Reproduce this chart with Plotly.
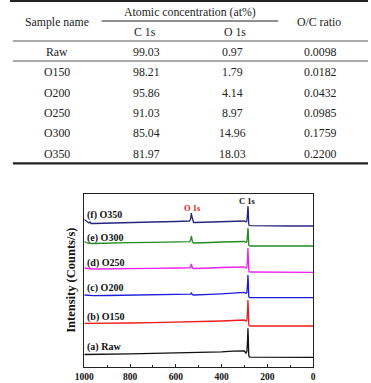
import plotly.graph_objects as go

# ---------------- table data ----------------
table_samples = ["Raw", "O150", "O200", "O250", "O300", "O350"]
table_c1s = ["99.03", "98.21", "95.86", "91.03", "85.04", "81.97"]
table_o1s = ["0.97", "1.79", "4.14", "8.97", "14.96", "18.03"]
table_oc = ["0.0098", "0.0182", "0.0432", "0.0985", "0.1759", "0.2200"]

# ---------------- spectra data (binding energy, eV) ----------------
be = [1000, 990, 980, 975, 970, 960, 900, 800, 700, 600, 550, 540, 535, 532, 530,
      527, 522, 515, 450, 400, 350, 310, 300, 293, 289, 286, 284.5, 283, 281, 279,
      275, 250, 200, 100, 0]

raw = [12.5, 12.5, 12.5, 12.5, 12.5, 12.5, 12.8, 13.2, 13.6, 14.0, 14.2, 14.2, 14.3, 14.4, 14.4,
       14.4, 14.4, 14.4, 14.7, 15.2, 15.8, 16.3, 16.0, 14.0, 15.5, 27.0, 38.7, 30.0, 12.0, 10.0,
       9.8, 9.8, 9.7, 9.7, 9.7]
o150 = [43.7, 43.7, 43.5, 43.6, 43.5, 43.5, 43.7, 44.0, 44.3, 44.7, 45.0, 45.0, 45.1, 45.5, 45.3,
        45.0, 45.0, 45.0, 45.5, 46.0, 46.5, 47.0, 47.0, 45.8, 47.0, 57.0, 67.0, 60.0, 43.0, 41.3,
        41.0, 41.0, 41.0, 41.0, 41.0]
o200 = [72.0, 71.7, 71.3, 71.6, 71.3, 71.3, 71.5, 71.8, 72.0, 72.3, 72.5, 72.5, 72.8, 74.0, 73.2,
        72.3, 72.0, 72.0, 72.6, 73.2, 73.8, 74.5, 74.7, 73.5, 74.5, 84.0, 92.0, 86.0, 71.0, 69.5,
        69.3, 69.3, 69.3, 69.3, 69.3]
o250 = [99.0, 98.5, 98.0, 98.5, 98.0, 98.0, 98.3, 98.5, 98.7, 99.0, 99.2, 99.2, 100.0, 103.0, 101.5,
        99.0, 98.5, 98.5, 99.0, 99.5, 100.0, 100.5, 100.0, 99.0, 100.0, 110.0, 119.0, 112.0, 97.0, 95.3,
        95.0, 95.0, 95.0, 94.8, 94.7]
o300 = [125.5, 124.5, 123.5, 124.0, 123.5, 123.5, 124.0, 124.3, 124.6, 125.0, 125.3, 125.3, 127.0, 131.0, 129.0,
        125.0, 124.0, 124.0, 124.5, 125.0, 125.5, 126.0, 125.5, 124.5, 125.5, 133.0, 139.0, 135.0, 122.0, 121.2,
        121.0, 121.0, 121.0, 121.0, 121.0]
o350 = [147.5, 146.0, 144.0, 145.0, 143.5, 143.5, 144.0, 144.5, 145.0, 145.5, 146.0, 146.0, 148.0, 154.0, 151.0,
        147.0, 144.5, 144.5, 145.0, 145.5, 146.0, 146.5, 146.0, 145.0, 146.0, 155.0, 161.0, 157.0, 143.0, 141.5,
        141.3, 141.2, 141.0, 141.0, 141.0]

series_names = ["(a) Raw", "(b) O150", "(c) O200", "(d) O250", "(e) O300", "(f) O350"]
series_values = [raw, o150, o200, o250, o300, o350]
series_colors = ["#111111", "#ee1c1c", "#1c1cdc", "#ee22ee", "#1e8c1e", "#26267e"]
label_y = [20, 50, 79, 104, 129, 152]

xticks = [1000, 800, 600, 400, 200, 0]

W, H = 371, 383
SERIF = "Liberation Serif"
TXT = "#222222"


def px(x):
    return x / W


def py(y):
    return 1 - y / H


fig = go.Figure()
for name, vals, col in zip(series_names, series_values, series_colors):
    fig.add_trace(go.Scatter(x=be, y=vals, mode="lines", name=name,
                             line=dict(color=col, width=1.3), showlegend=False))

annotations = []
shapes = []

for name, yv, col in zip(series_names, label_y, series_colors):
    annotations.append(dict(x=995, y=yv, xref="x", yref="y", text="<b>" + name + "</b>", showarrow=False,
                            xanchor="left", yanchor="middle",
                            font=dict(family=SERIF, size=10, color="#111111")))
annotations.append(dict(x=527, y=159, xref="x", yref="y", text="<b>O 1s</b>", showarrow=False,
                        xanchor="center", yanchor="middle",
                        font=dict(family=SERIF, size=8.5, color="#e02020")))
annotations.append(dict(x=285, y=166, xref="x", yref="y", text="<b>C 1s</b>", showarrow=False,
                        xanchor="center", yanchor="middle",
                        font=dict(family=SERIF, size=8.5, color="#111111")))

annotations.append(dict(x=px(63), y=py(280), xref="paper", yref="paper",
                        text="<b>Intensity (Counts/s)</b>", showarrow=False, textangle=-90,
                        xanchor="center", yanchor="middle",
                        font=dict(family=SERIF, size=12.5, color="#111111")))

tfont = dict(family=SERIF, size=11.8, color=TXT)


def tcell(x, y, text):
    annotations.append(dict(x=px(x), y=py(y), xref="paper", yref="paper", text=text,
                            showarrow=False, xanchor="center", yanchor="middle", font=tfont))


tcell(49, 22, "Sample name")
tcell(187, 12, "Atomic concentration (at%)")
tcell(140, 32, "C 1s")
tcell(233, 32, "O 1s")
tcell(320, 22, "O/C ratio")
row_y = [52, 72, 93, 113, 133, 154]
for s, c, o, r, yy in zip(table_samples, table_c1s, table_o1s, table_oc, row_y):
    tcell(49, yy, s)
    tcell(141, yy, c)
    tcell(231, yy, o)
    tcell(322, yy, r)


def hline(x0, x1, y, w, color="#222222"):
    shapes.append(dict(type="line", xref="paper", yref="paper", x0=px(x0), x1=px(x1),
                       y0=py(y), y1=py(y), line=dict(color=color, width=w)))


hline(0, 371, 1, 2.2)
hline(95, 278, 21, 1)
hline(3, 371, 41, 1, "#555555")
hline(3, 371, 61, 1, "#555555")
hline(3, 371, 163.3, 2.2)

fig.update_layout(
    width=W, height=H,
    margin=dict(l=0, r=0, t=0, b=0),
    paper_bgcolor="white", plot_bgcolor="white",
    annotations=annotations, shapes=shapes,
    xaxis=dict(domain=[px(77), px(314)], range=[1000, 0], showgrid=False, zeroline=False,
               showline=True, mirror=True, linecolor="#222222", linewidth=1.3,
               ticks="inside", ticklen=3, tickwidth=1, tickcolor="#222222",
               tickvals=xticks, ticktext=["<b>%d</b>" % v for v in xticks],
               tickfont=dict(family=SERIF, size=9.5, color="#111111"),
               minor=dict(tickvals=[900, 700, 500, 300, 100], ticks="inside", ticklen=2,
                          tickcolor="#222222")),
    yaxis=dict(domain=[1 - 367 / H, 1 - 194 / H], range=[0, 173], showgrid=False, zeroline=False,
               showline=True, mirror=True, linecolor="#222222", linewidth=1.3,
               showticklabels=False, ticks=""),
)

fig.write_html("out.html")
